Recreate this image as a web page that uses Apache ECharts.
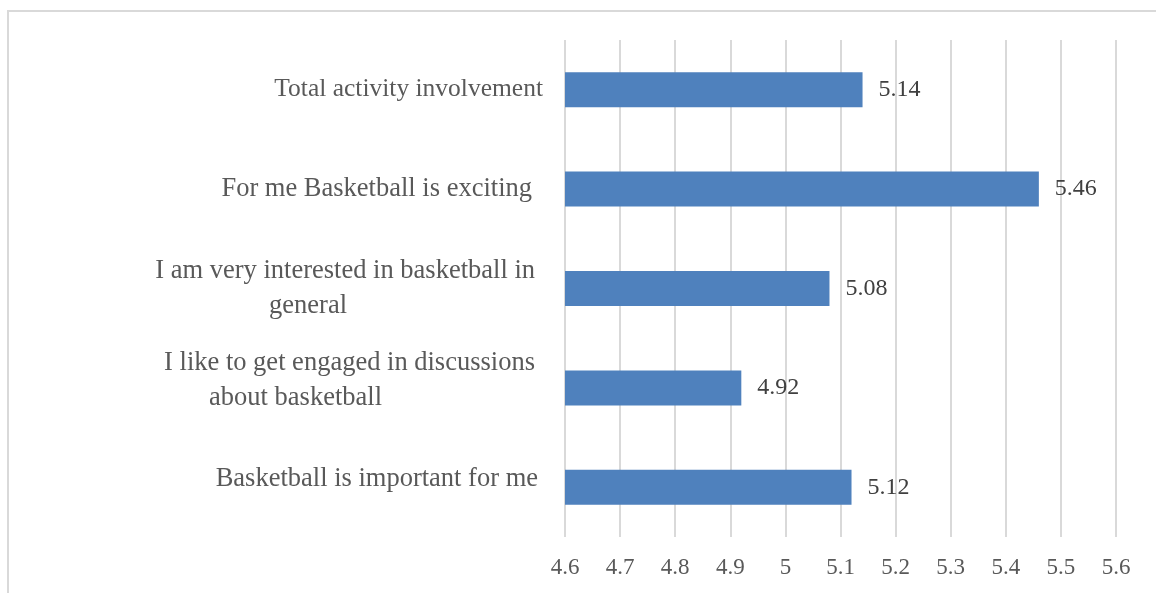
<!DOCTYPE html>
<html>
<head>
<meta charset="utf-8">
<script src="https://cdn.jsdelivr.net/npm/echarts@6/dist/echarts.min.js"></script>
<style>
  html, body { margin: 0; padding: 0; background: #ffffff; }
  #chart { width: 1156px; height: 593px; }
</style>
</head>
<body>
<div id="chart"></div>
<script>
// Statement labels (top to bottom) and their mean involvement scores
const categories = [
  'Total activity involvement',
  'For me Basketball is exciting',
  'I am very interested in basketball in\ngeneral',
  'I like to get engaged in discussions\nabout basketball',
  'Basketball is important for me'
];
const scores = [5.14, 5.46, 5.08, 4.92, 5.12];

// Value axis range and step
const axisMin = 4.6;
const axisMax = 5.6;
const axisStep = 0.1;

const serif = '"Liberation Serif", "Times New Roman", serif';

// Per-label type size, right offsets per line, and a trailing spacer
// height that nudges a label block upward
const labelSize = [25.5, 26.5, 26.5, 26.5, 26.5];
const firstLinePad = [0, 11, 8, 8, 5];
const secondLinePad = [0, 0, 196, 161, 0];
const spacerHeight = [0, 0, 0, 14, 16];

const rich = {};
categories.forEach((_, i) => {
  rich['a' + i] = {
    fontFamily: serif, fontSize: labelSize[i], color: '#595959', lineHeight: 35,
    align: 'right', padding: [0, firstLinePad[i], 0, 0]
  };
  rich['b' + i] = {
    fontFamily: serif, fontSize: labelSize[i], color: '#595959', lineHeight: 35,
    align: 'right', padding: [0, secondLinePad[i], 0, 0]
  };
  rich['s' + i] = {
    fontSize: 1, lineHeight: spacerHeight[i], color: 'rgba(0,0,0,0)'
  };
});

const chart = echarts.init(document.getElementById('chart'), null, { renderer: 'canvas' });

chart.setOption({
  backgroundColor: '#ffffff',
  animation: false,
  graphic: [{
    type: 'rect',
    shape: { x: 8, y: 11, width: 1200, height: 620 },
    style: { fill: 'none', stroke: '#d9d9d9', lineWidth: 2 },
    silent: true
  }],
  grid: { left: 565, right: 40, top: 40, bottom: 56, containLabel: false },
  xAxis: {
    type: 'value',
    min: axisMin,
    max: axisMax,
    interval: axisStep,
    axisLine: { show: false },
    axisTick: { show: false },
    splitLine: { show: true, lineStyle: { color: '#d9d9d9', width: 2 } },
    axisLabel: {
      margin: 19,
      fontFamily: serif,
      fontSize: 23,
      color: '#595959',
      formatter: v => String(+v.toFixed(1))
    }
  },
  yAxis: {
    type: 'category',
    inverse: true,
    data: categories,
    axisLine: { show: false },
    axisTick: { show: false },
    splitLine: { show: false },
    axisLabel: {
      margin: 22,
      align: 'right',
      formatter: (value, idx) => {
        const lines = value.split('\n');
        let out = lines.map((ln, k) => '{' + (k === 0 ? 'a' : 'b') + idx + '|' + ln + '}').join('\n');
        if (spacerHeight[idx] > 0) {
          out += '\n{s' + idx + '|\u00a0}';
        }
        return out;
      },
      rich: rich
    }
  },
  series: [{
    type: 'bar',
    data: scores,
    barWidth: 35,
    itemStyle: { color: '#4f81bd' },
    label: {
      show: true,
      position: 'right',
      distance: 16,
      fontFamily: serif,
      fontSize: 24,
      color: '#404040',
      formatter: p => p.value.toFixed(2)
    }
  }]
});
</script>
</body>
</html>
